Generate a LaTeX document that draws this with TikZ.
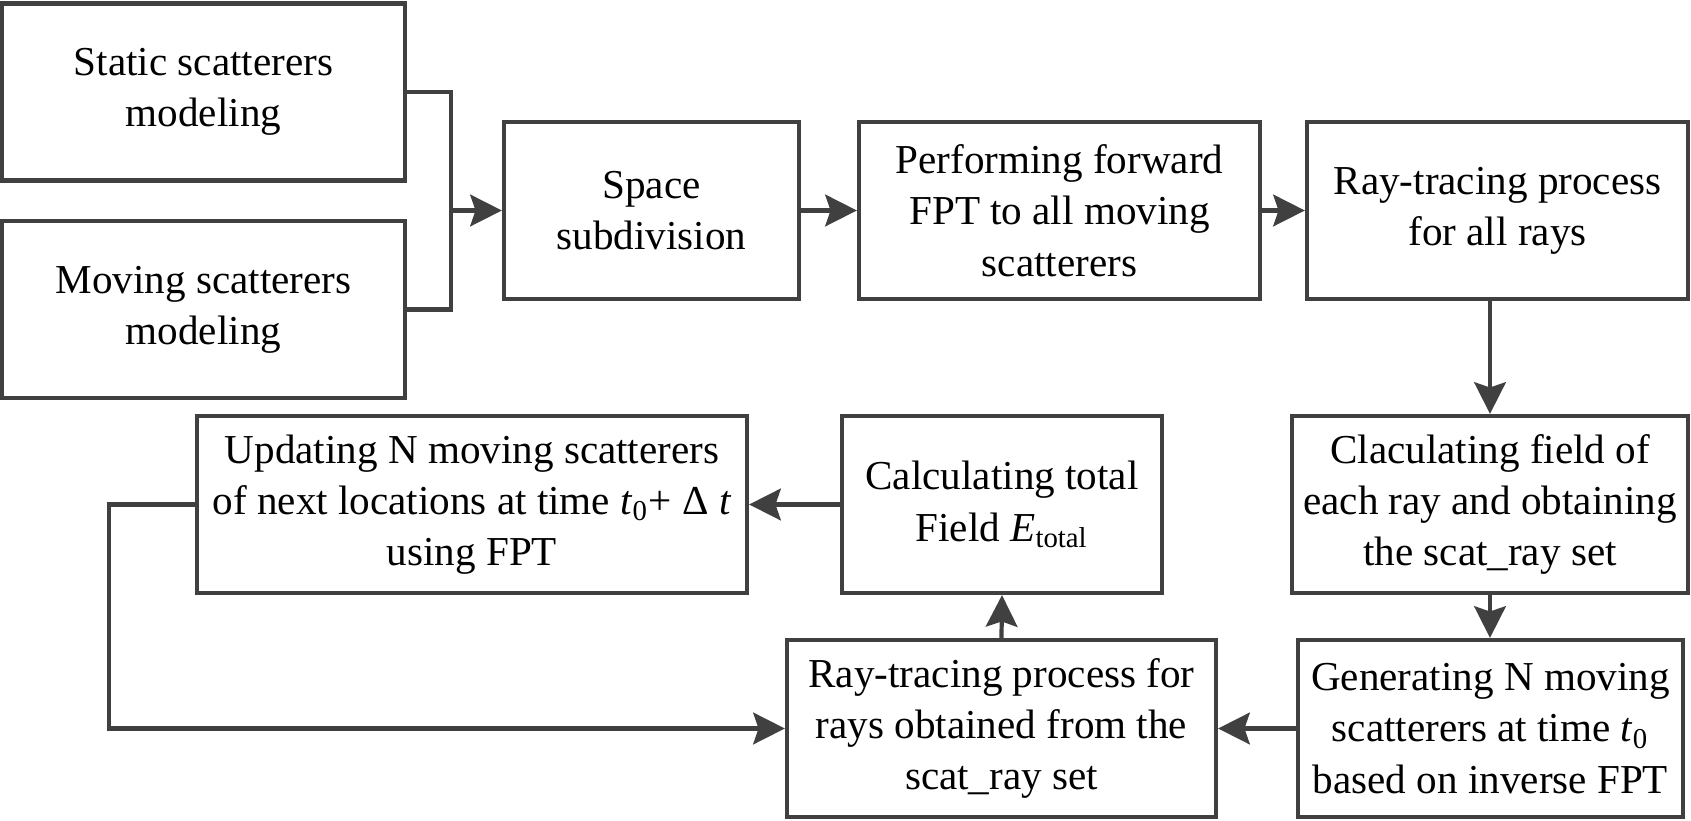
\documentclass[tikz,border=0pt]{standalone}
\usepackage{fontspec}
\setmainfont{Liberation Serif}
\newfontfamily\boxfont{Liberation Serif}
\usepackage{tikz}
\usetikzlibrary{arrows.meta,calc}
\usepackage{xcolor}
\definecolor{edge}{HTML}{404040}

\begin{document}
\begin{tikzpicture}[
  box/.style={draw=edge, line width=1.2pt, minimum height=1.77cm, align=center, inner sep=2pt,
    font=\boxfont\fontsize{11.7}{14.6}\selectfont},
  arr/.style={draw=edge, line width=1.2pt, -{Stealth[length=9pt, width=9pt, inset=1.5pt]}},
  wire/.style={draw=edge, line width=1.2pt}
]
  \useasboundingbox (0,0) rectangle (16.91,-8.21);
  % top row
  \node[box, minimum width=4.03cm] (static) at (2.035,-0.92) {Static scatterers\\modeling};
  \node[box, minimum width=4.03cm] (moving) at (2.035,-3.095) {Moving scatterers\\modeling};
  \node[box, minimum width=2.95cm] (space) at (6.515,-2.105) {Space\\subdivision};
  \node[box, minimum width=4.01cm] (forward) at (10.595,-2.105) {Performing forward\\FPT to all moving\\scatterers};
  \node[box, minimum width=3.81cm] (trace) at (14.975,-2.105) {Ray-tracing process\\for all rays};
  % right column
  \node[box, minimum width=3.96cm] (field) at (14.90,-5.045) {Claculating field of\\each ray and obtaining\\the scat\_ray set};
  \node[box, minimum width=3.85cm] (gen) at (14.905,-7.285) {Generating N moving\\scatterers at time \textit{t}\textsubscript{0}\\based on inverse FPT};
  % bottom loop
  \node[box, minimum width=4.29cm] (retrace) at (10.015,-7.285) {Ray-tracing process for\\rays obtained from the\\scat\_ray set};
  \node[box, minimum width=3.20cm] (total) at (10.02,-5.045) {Calculating total\\Field \textit{E}\textsubscript{total}};
  \node[box, minimum width=5.50cm] (update) at (4.72,-5.045) {Updating N moving scatterers\\of next locations at time \textit{t}\textsubscript{0}+ Δ \textit{t}\\using FPT};

  \coordinate (join) at (4.51,-2.105);
  \coordinate (loop) at (1.09,-7.285);

  \draw[wire] (static.east) -| (join) |- (moving.east);
  \draw[arr] (join) -- (space.west);
  \draw[arr] (space.east) -- (forward.west);
  \draw[arr] (forward.east) -- (trace.west);
  \draw[arr] (trace.south -| field.north) -- (field.north);
  \draw[arr] (field.south) -- (field.south |- gen.north);
  \draw[arr] (gen.west) -- (retrace.east);
  \draw[arr] (retrace.north) -- (total.south);
  \draw[arr] (total.west) -- (update.east);
  \draw[arr] (update.west) -| (loop) -- (retrace.west);
\end{tikzpicture}
\end{document}
